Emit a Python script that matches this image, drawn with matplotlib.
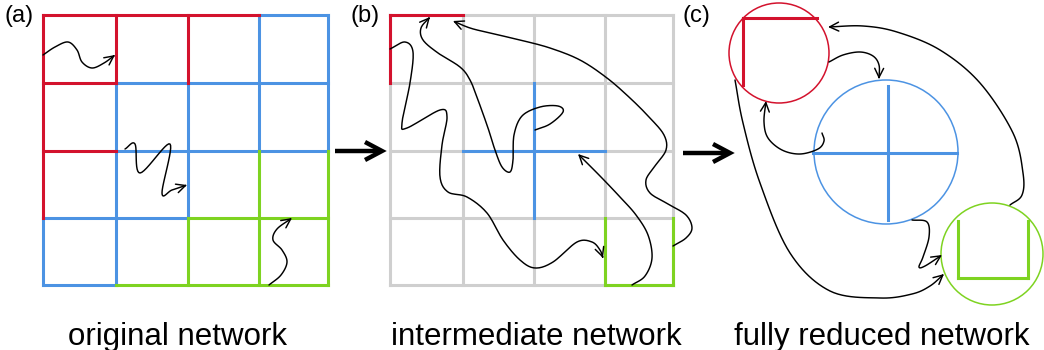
import numpy as np
import matplotlib
matplotlib.use("Agg")
import matplotlib.pyplot as plt
from matplotlib.patches import Circle, FancyArrowPatch
from matplotlib.path import Path

plt.rcParams['font.family'] = ['Liberation Sans', 'DejaVu Sans']

# ---- colours -------------------------------------------------------------
RED = '#D3122D'
BLUE = '#4C93E3'
GREEN = '#7ED321'
GRAY = '#CFCFCF'

# ---- lattice node positions (pixel space) --------------------------------
grid_a_x = [43, 116, 188, 259, 328]
grid_a_y = [15, 83, 151, 218, 285]
grid_b_x = [390, 463, 534, 605, 673]
grid_b_y = [15, 83, 151, 218, 285]

# bonds given as ((col, row), (col, row)) pairs
red_bonds_a = [((0, 0), (3, 0)), ((1, 0), (1, 1)), ((2, 0), (2, 1)),
               ((0, 1), (1, 1)), ((0, 0), (0, 3)), ((0, 2), (1, 2))]
blue_bonds_a = [((3, 0), (4, 0)), ((3, 0), (3, 2)), ((4, 0), (4, 2)),
                ((1, 1), (4, 1)), ((1, 1), (1, 4)), ((2, 1), (2, 3)),
                ((1, 2), (4, 2)), ((0, 3), (2, 3)), ((0, 3), (0, 4)),
                ((0, 4), (1, 4))]
green_bonds_a = [((2, 3), (4, 3)), ((1, 4), (4, 4)), ((2, 3), (2, 4)),
                 ((3, 2), (3, 4)), ((4, 2), (4, 4))]

red_bonds_b = [((0, 0), (1, 0)), ((0, 0), (0, 1))]
blue_bonds_b = [((2, 1), (2, 3)), ((1, 2), (3, 2))]
green_bonds_b = [((3, 3), (3, 4)), ((4, 3), (4, 4)), ((3, 4), (4, 4))]

# ---- fully reduced network: nodes and their internal bonds ---------------
node_centres = [(779, 53), (886, 152), (992, 254)]
node_radii = [50, 72, 51]
node_colours = [RED, BLUE, GREEN]
red_segments_c = [((743, 18), (817, 18)), ((743, 18), (743, 85))]
blue_segments_c = [((813, 153), (957, 153)), ((888, 86), (888, 220))]
green_segments_c = [((958, 221), (958, 278)), ((958, 278), (1028, 278)),
                    ((1028, 221), (1028, 278))]

# ---- random-walk trajectories (way-points, last point = arrow tip) -------
walks_a = [
    [(43, 55), (55, 47), (68, 42), (77, 50), (82, 62), (92, 68), (104, 63), (115, 55)],
    [(125, 149), (135, 144), (140, 173), (170, 144), (162, 193), (172, 190), (187, 185)],
    [(269, 285), (281, 275), (287, 262), (282, 250), (273, 240), (277, 229), (292, 218)],
]
walks_b = [
    [(390, 49), (405, 42), (413, 52), (410, 83), (402, 123), (407, 128), (440, 110),
     (447, 117), (442, 145), (440, 177), (448, 192), (467, 197), (487, 213),
     (503, 240), (520, 260), (535, 268), (553, 262), (577, 242), (592, 242),
     (600, 250), (603, 258)],
    [(535, 130), (550, 124), (563, 112), (558, 106), (540, 107), (522, 116),
     (514, 135), (513, 160), (510, 172), (502, 167), (495, 150), (488, 128),
     (478, 100), (470, 80), (460, 67), (438, 53), (423, 40), (421, 28), (430, 17)],
    [(673, 246), (686, 238), (692, 228), (686, 215), (668, 204), (650, 193),
     (646, 180), (655, 166), (666, 150), (664, 135), (650, 118), (630, 98),
     (607, 78), (580, 60), (550, 48), (520, 40), (490, 33), (470, 28), (453, 21)],
    [(632, 285), (645, 276), (652, 258), (648, 235), (636, 215), (620, 197),
     (600, 176), (578, 154)],
]
walks_c = [
    [(829, 62), (843, 55), (860, 52), (873, 56), (879, 65), (879, 79)],
    [(822, 133), (824, 141), (818, 149), (800, 154), (782, 150), (768, 138),
     (764, 122), (766, 101)],
    [(1010, 205), (1022, 195), (1023, 173), (1013, 133), (980, 83), (940, 50),
     (897, 32), (863, 26), (828, 27)],
    [(912, 220), (927, 222), (929, 237), (923, 257), (919, 267), (925, 266), (942, 255)],
    [(735, 80), (743, 123), (760, 183), (790, 253), (830, 291), (880, 298),
     (912, 294), (930, 286), (944, 274)],
]

panel_tags = ['(a)', '(b)', '(c)']
panel_tag_x = [5, 350, 683]
panel_titles = ['original network', 'intermediate network', 'fully reduced network']
panel_title_x = [178, 536, 882]
stage_arrow_x = [(335, 382), (683, 730)]
stage_arrow_y = [151, 153]


def catmull_rom(pts, n=12):
    p = np.asarray(pts, float)
    p = np.vstack([2 * p[0] - p[1], p, 2 * p[-1] - p[-2]])
    t = np.linspace(0, 1, n, endpoint=False)[:, None]
    out = []
    for i in range(1, len(p) - 2):
        p0, p1, p2, p3 = p[i - 1], p[i], p[i + 1], p[i + 2]
        out.append(0.5 * (2 * p1 + (-p0 + p2) * t
                          + (2 * p0 - 5 * p1 + 4 * p2 - p3) * t ** 2
                          + (-p0 + 3 * p1 - 3 * p2 + p3) * t ** 3))
    out.append(p[-2][None])
    return np.vstack(out)


def draw_bonds(ax, bonds, xs, ys, colour, lw=2.2, z=2):
    for (c0, r0), (c1, r1) in bonds:
        ax.plot([xs[c0], xs[c1]], [ys[r0], ys[r1]], color=colour, lw=lw,
                solid_capstyle='projecting', zorder=z)


def draw_segments(ax, segs, colour, lw=2.2):
    for (x0, y0), (x1, y1) in segs:
        ax.plot([x0, x1], [y0, y1], color=colour, lw=lw,
                solid_capstyle='projecting', zorder=3)


def draw_walk(ax, pts):
    verts = catmull_rom(pts)
    arrow = FancyArrowPatch(path=Path(verts),
                            arrowstyle='->,head_length=0.65,head_width=0.32',
                            mutation_scale=10, lw=1.05, color='black',
                            zorder=5, joinstyle='round', capstyle='round')
    ax.add_patch(arrow)


fig = plt.figure(figsize=(10.44, 3.5), dpi=100)
ax = fig.add_axes([0, 0, 1, 1])
ax.set_xlim(0, 1044)
ax.set_ylim(350, 0)
ax.axis('off')

# (a) original lattice
draw_bonds(ax, blue_bonds_a, grid_a_x, grid_a_y, BLUE)
draw_bonds(ax, green_bonds_a, grid_a_x, grid_a_y, GREEN)
draw_bonds(ax, red_bonds_a, grid_a_x, grid_a_y, RED, z=3)

# (b) intermediate lattice: grey background grid plus surviving bonds
for x in grid_b_x:
    ax.plot([x, x], [grid_b_y[0], grid_b_y[-1]], color=GRAY, lw=2.2,
            solid_capstyle='projecting', zorder=1)
for y in grid_b_y:
    ax.plot([grid_b_x[0], grid_b_x[-1]], [y, y], color=GRAY, lw=2.2,
            solid_capstyle='projecting', zorder=1)
draw_bonds(ax, red_bonds_b, grid_b_x, grid_b_y, RED)
draw_bonds(ax, blue_bonds_b, grid_b_x, grid_b_y, BLUE)
draw_bonds(ax, green_bonds_b, grid_b_x, grid_b_y, GREEN)

# (c) reduced network nodes
for (cx, cy), r, col in zip(node_centres, node_radii, node_colours):
    ax.add_patch(Circle((cx, cy), r, fill=False, ec=col, lw=1.1, zorder=2))
draw_segments(ax, red_segments_c, RED)
draw_segments(ax, blue_segments_c, BLUE)
draw_segments(ax, green_segments_c, GREEN)

for w in walks_a + walks_b + walks_c:
    draw_walk(ax, w)

# bold arrows between stages
for (x0, x1), y in zip(stage_arrow_x, stage_arrow_y):
    ax.plot([x0, x1 - 2], [y, y], color='black', lw=3.2, solid_capstyle='butt', zorder=4)
    ax.plot([x1 - 17, x1, x1 - 17], [y - 9, y, y + 9], color='black', lw=3.2,
            solid_joinstyle='miter', solid_capstyle='butt', zorder=4)

for tag, x in zip(panel_tags, panel_tag_x):
    ax.text(x, 22, tag, fontsize=17, ha='left', va='baseline')
for title, x in zip(panel_titles, panel_title_x):
    ax.text(x, 345, title, fontsize=22.5, ha='center', va='baseline')

fig.savefig('out.png', dpi=100)
